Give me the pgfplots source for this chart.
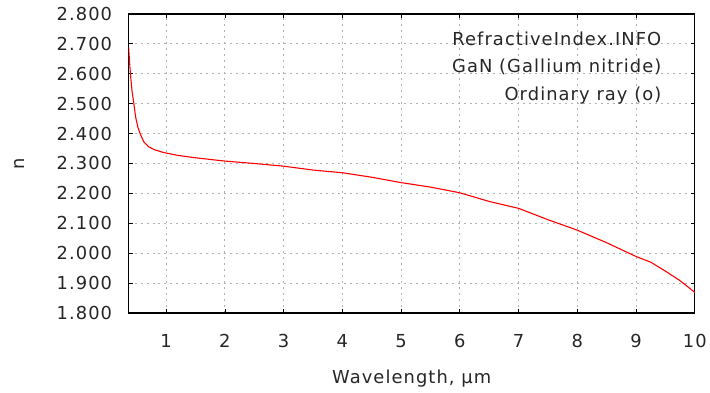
\documentclass[border=0pt]{standalone}
\usepackage{fontspec}
\setmainfont{DejaVu Sans}[LetterSpace=6]
\usepackage{pgfplots}
\pgfplotsset{compat=1.18}

\begin{document}
\begin{tikzpicture}
  \begin{axis}[
      name=ax,
      at={(0,0)}, anchor=south west,
      scale only axis,
      width=568bp, height=300bp,
      xmin=0.36, xmax=10,
      ymin=1.8, ymax=2.8,
      xtick={1,2,...,10},
      ytick={1.8,1.9,...,2.85},
      tick align=inside,
      major tick length=4bp,
      axis line style={line width=1.2bp},
      tick style={black, line width=0.8bp},
      grid=major,
      grid style={gray!60, line width=0.9bp, dash pattern=on 2bp off 4bp},
      /pgf/number format/assume math mode=true,
      yticklabel style={/pgf/number format/fixed,
        /pgf/number format/fixed zerofill,
        /pgf/number format/precision=3, xshift=-13bp},
      ticklabel style={font=\fontsize{18}{21}\selectfont, text=black!85},
      xticklabel style={yshift=-18bp},
      xlabel={Wavelength, µm},
      ylabel={n},
      label style={font=\fontsize{18}{21}\selectfont, text=black!85},
      xlabel style={at={(axis description cs:0.5,-0.22)}, anchor=center},
      ylabel style={at={(axis description cs:-0.192,0.5)}, anchor=center},
    ]
    \addplot[red, line width=1.1bp, no marks] coordinates {
      (0.36, 2.690)
      (0.38, 2.630)
      (0.40, 2.580)
      (0.42, 2.540)
      (0.45, 2.500)
      (0.48, 2.455)
      (0.52, 2.420)
      (0.56, 2.398)
      (0.62, 2.372)
      (0.70, 2.356)
      (0.80, 2.346)
      (0.95, 2.337)
      (1.20, 2.327)
      (1.50, 2.319)
      (2.00, 2.308)
      (2.50, 2.300)
      (3.00, 2.291)
      (3.50, 2.278)
      (4.00, 2.269)
      (4.50, 2.254)
      (5.00, 2.236)
      (5.50, 2.221)
      (6.00, 2.202)
      (6.50, 2.173)
      (7.00, 2.150)
      (7.50, 2.112)
      (8.00, 2.077)
      (8.50, 2.035)
      (9.00, 1.989)
      (9.25, 1.970)
      (9.50, 1.940)
      (9.75, 1.908)
      (10.0, 1.869)
    };
    % legend-like caption in the top right corner
    \begin{scope}[every node/.style={anchor=east, inner sep=1bp,
        text height=0.75em, text depth=0.22em, text=black!85,
        font=\fontsize{18}{21}\selectfont}]
      \node at (rel axis cs:0.943,0.903) {RefractiveIndex.INFO};
      \node at (rel axis cs:0.943,0.813) {GaN (Gallium nitride)};
      \node at (rel axis cs:0.943,0.720) {Ordinary ray (o)};
    \end{scope}
  \end{axis}
  \path (ax.south west) ++(-129bp,-80bp) rectangle ++(710bp,394bp);
\end{tikzpicture}
\end{document}
